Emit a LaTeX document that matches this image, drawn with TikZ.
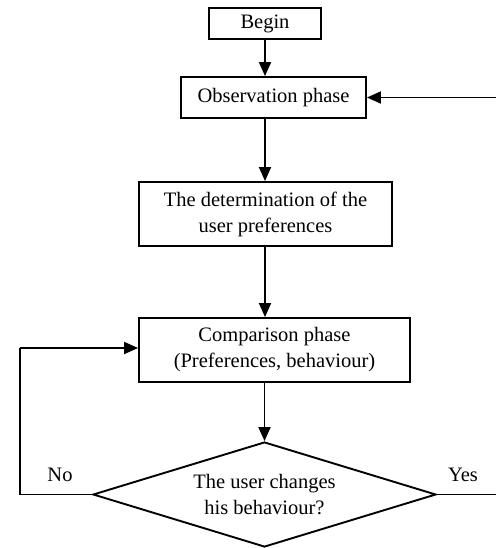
\documentclass[tikz,border=0pt]{standalone}
\usepackage{fontspec}
\setmainfont{Liberation Serif}
\usetikzlibrary{shapes.geometric,arrows.meta}
\begin{document}
\begin{tikzpicture}[x=1pt,y=-1pt,
  every node/.style={font=\fontsize{20.5}{26}\selectfont},
  box/.style={draw,line width=1.9pt,rectangle,inner sep=0pt,align=center},
  decision/.style={draw,line width=1.9pt,diamond,inner sep=0pt,aspect=3.27,align=center},
  conn/.style={line width=1.9pt},
  arr/.style={line width=1.9pt,-{Triangle[length=14pt,width=12pt]}},
  lbl/.style={inner sep=0pt}
]
\useasboundingbox (0,0) rectangle (495,548);
\node[box,minimum width=112pt,minimum height=31pt] (begin) at (265,23.5) {Begin};
\node[box,minimum width=185pt,minimum height=41pt] (obs) at (273.5,97.5) {Observation phase};
\node[box,minimum width=253pt,minimum height=64pt] (det) at (265.5,214) {The determination of the\\user preferences};
\node[box,minimum width=271pt,minimum height=64pt] (cmp) at (274.5,350) {Comparison phase\\(Preferences, behaviour)};
\node[decision,minimum width=343pt,minimum height=105pt] (dia) at (264.5,494.5) {The user changes\\his behaviour?};
\node[lbl] (no) at (60,475) {No};
\node[lbl] (yes) at (463,475) {Yes};
\coordinate (yesc) at (498,97.5);
\coordinate (noc) at (20,348);
\draw[arr] (begin.south) -- (begin.south |- obs.north);
\draw[arr] (begin.south |- obs.south) -- (begin.south |- det.north);
\draw[arr] (begin.south |- det.south) -- (begin.south |- cmp.north);
\draw[arr] (dia.north |- cmp.south) -- (dia.north);
\draw[conn] (dia.east) -| (yesc);
\draw[arr] (yesc) -- (obs.east);
\draw[conn] (dia.west) -| (noc);
\draw[arr] (noc) -- (noc -| cmp.west);
\end{tikzpicture}
\end{document}
